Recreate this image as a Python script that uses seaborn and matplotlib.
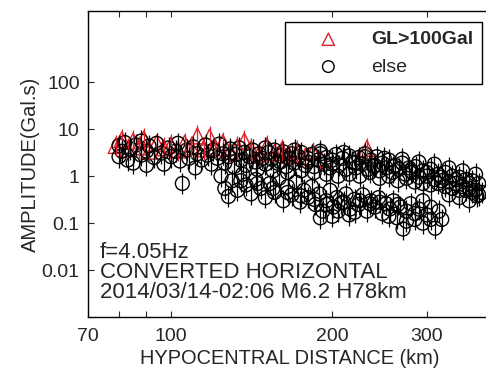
import numpy as np
import pandas as pd
import matplotlib
matplotlib.use("Agg")
import matplotlib.pyplot as plt
import seaborn as sns

# --- DATA ---
GROUP_RED = "GL>100Gal"
GROUP_ELSE = "else"

red_dist = [79, 81, 83, 85, 87, 89, 91, 94, 97, 100, 103, 106, 109, 112, 115, 118,
            121, 125, 129, 133, 137, 141, 146, 151, 156, 161, 166, 172, 178, 184, 190, 232]
red_amp = [4.5, 6.0, 3.8, 5.6, 4.2, 6.2, 3.4, 5.0, 4.0, 4.6, 3.6, 5.0, 4.2, 7.2, 3.8, 6.8,
           4.0, 5.2, 3.4, 4.2, 5.6, 3.8, 3.0, 4.4, 3.2, 3.6, 2.8, 3.4, 2.6, 3.2, 2.4, 3.9]

# upper band of "else" stations
upper_dist = [80, 80, 81, 82, 83, 84, 85, 86, 88, 88,
              90, 90, 91, 93, 94, 96, 97, 99, 100, 102,
              103, 104, 105, 107, 108, 110, 111, 112, 114, 116,
              117, 119, 120, 122, 123, 125, 126, 128, 129, 131,
              132, 134, 135, 137, 138, 140, 142, 144, 146, 148,
              150, 152, 154, 156, 158, 160, 162, 164, 166, 168,
              170, 173, 175, 178, 180, 183, 185, 188, 190, 193,
              195, 198, 200, 203, 206, 209, 212, 215, 218, 221,
              224, 227, 230, 233, 236, 239, 242, 245, 248, 252,
              255, 259, 262, 266, 270, 274, 278, 282, 286, 290,
              295, 300, 305, 310, 315, 320, 325, 330, 335, 340,
              345, 350, 355, 360, 365, 370, 375, 380]
upper_amp = [4.5, 2.6, 3.4, 5.2, 2.2, 3.8, 1.9, 4.6, 2.8, 5.6,
             3.4, 1.7, 4.4, 2.5, 5.0, 3.1, 1.8, 4.0, 2.6, 3.4,
             5.0, 2.1, 0.7, 3.6, 2.4, 4.2, 1.5, 3.0, 2.2, 4.6,
             2.8, 1.8, 3.6, 2.4, 4.8, 3.0, 1.9, 2.6, 3.8, 1.6,
             2.9, 4.0, 2.2, 3.2, 1.7, 2.6, 3.6, 2.0, 3.0, 2.4,
             1.8, 3.2, 2.3, 3.6, 1.9, 2.7, 3.3, 1.6, 2.4, 3.0,
             1.9, 2.6, 3.2, 1.7, 2.4, 2.9, 1.6, 2.2, 3.0, 1.8,
             2.5, 1.5, 2.2, 2.9, 1.7, 2.4, 1.4, 2.7, 2.0, 1.5,
             2.5, 1.8, 3.0, 1.4, 2.2, 1.6, 2.6, 1.3, 1.9, 1.5,
             2.2, 1.2, 1.7, 1.4, 1.9, 1.1, 1.5, 1.2, 1.6, 0.95,
             1.3, 1.0, 1.4, 0.85, 1.1, 0.8, 1.2, 0.75, 1.0, 0.7,
             0.95, 0.6, 0.85, 0.55, 0.8, 0.5, 0.7, 0.45]

# stations filling the middle of the two bands
mid_dist = [145, 155, 165, 175, 185, 195, 205, 215, 225, 235,
            245, 255, 265, 275, 285, 295, 305, 315, 325, 335,
            345, 355, 365, 375, 150, 170, 190, 210, 230, 250,
            270, 290, 310, 330, 350, 370, 160, 180, 200, 220,
            240, 260, 280, 300, 320, 340, 360]
mid_amp = [1.4, 1.3, 1.2, 1.3, 1.2, 1.1, 1.0, 1.1, 1.0, 1.2,
           0.9, 1.0, 0.8, 0.9, 0.75, 0.7, 0.65, 0.7, 0.6, 0.55,
           0.5, 0.5, 0.45, 0.4, 4.0, 3.6, 3.4, 3.2, 2.6, 2.4,
           2.3, 2.0, 1.8, 1.5, 1.3, 1.1, 2.0, 2.0, 1.8, 1.9,
           1.7, 1.6, 1.3, 1.2, 0.95, 0.85, 0.7]

# lower band of "else" stations
lower_dist = [124, 126, 128, 130, 133, 136, 138, 141, 144, 147,
              150, 153, 156, 159, 162, 165, 168, 171, 174, 177,
              180, 183, 186, 189, 192, 195, 198, 201, 204, 208,
              212, 216, 220, 224, 228, 232, 236, 240, 244, 248,
              252, 256, 260, 264, 268, 271, 275, 280, 285, 290,
              295, 300, 305, 311, 316, 320, 330, 345, 360, 372,
              135, 145, 155, 165, 175, 185, 195, 205, 215, 225,
              235, 245, 255, 265, 275, 285, 295, 305, 190, 200,
              210, 220]
lower_amp = [1.0, 0.55, 0.37, 0.8, 0.5, 1.1, 0.65, 0.42, 0.85, 0.55,
             0.35, 0.7, 0.45, 0.9, 0.3, 0.6, 0.4, 0.75, 0.28, 0.5,
             0.35, 0.6, 0.25, 0.42, 0.18, 0.3, 0.5, 0.22, 0.35, 0.27,
             0.42, 0.2, 0.32, 0.25, 0.4, 0.18, 0.3, 0.22, 0.35, 0.16,
             0.26, 0.2, 0.3, 0.13, 0.22, 0.075, 0.18, 0.26, 0.12, 0.2,
             0.3, 0.15, 0.22, 0.078, 0.18, 0.12, 0.4, 0.35, 0.3, 0.38,
             0.8, 0.7, 0.55, 0.45, 0.38, 0.32, 0.25, 0.18, 0.15, 0.3,
             0.26, 0.28, 0.14, 0.25, 0.11, 0.16, 0.1, 0.12, 0.13, 0.14,
             0.28, 0.17]

ERR_FACTOR = 1.7  # multiplicative half-width of the vertical error bars

x_ticks = [70, 80, 90, 100, 200, 300]
x_ticklabels = ["70", "", "", "100", "200", "300"]
y_ticks = [0.01, 0.1, 1, 10, 100]
y_ticklabels = ["0.01", "0.1", "1", "10", "100"]

annotation = ["f=4.05Hz", "CONVERTED HORIZONTAL", "2014/03/14-02:06 M6.2 H78km"]

# --- TABLE ---
else_dist = upper_dist + mid_dist + lower_dist
else_amp = upper_amp + mid_amp + lower_amp
df = pd.DataFrame({
    "DIST": red_dist + else_dist,
    "AMP": red_amp + else_amp,
    "GRUPO": [GROUP_RED] * len(red_dist) + [GROUP_ELSE] * len(else_dist),
})

sns.set_theme(style="ticks")
plt.rcParams["font.family"] = ["Liberation Sans", "DejaVu Sans"]

fig = plt.figure(figsize=(4.86, 3.74), dpi=100)
ax = fig.add_axes([0.181, 0.152, 0.83, 0.818])

estilo = {
    GROUP_RED: dict(marker="^", color="#e0202a", s=130, ms=0.6),
    GROUP_ELSE: dict(marker="o", color="black", s=100, ms=0.7),
}

for grupo in [GROUP_RED, GROUP_ELSE]:
    sub = df[df["GRUPO"] == grupo]
    st = estilo[grupo]
    y = sub["AMP"].to_numpy()
    ax.errorbar(sub["DIST"], y, yerr=[y - y / ERR_FACTOR, y * ERR_FACTOR - y],
                fmt="none", ecolor=st["color"], elinewidth=0.9, capsize=0)
    sns.scatterplot(data=sub, x="DIST", y="AMP", ax=ax, marker=st["marker"],
                    s=st["s"], facecolors="none", edgecolor=st["color"],
                    linewidth=1.0, label=grupo)

ax.set_xscale("log")
ax.set_yscale("log")
ax.set_xlim(70, 396)
ax.set_ylim(1e-3, 3240)

ax.set_xticks(x_ticks)
ax.set_xticklabels(x_ticklabels)
ax.set_yticks(y_ticks)
ax.set_yticklabels(y_ticklabels)
ax.minorticks_off()
ax.tick_params(axis="x", which="both", direction="in", top=True, length=4,
               width=0.8, labelsize=14, pad=8)
ax.tick_params(axis="y", which="both", direction="in", length=4, width=0.8,
               labelsize=14, pad=6)

for lado in ["left", "bottom", "top"]:
    ax.spines[lado].set_linewidth(1.0)
    ax.spines[lado].set_color("black")
ax.spines["right"].set_visible(False)

ax.set_xlabel("HYPOCENTRAL DISTANCE (km)", fontsize=14.4, labelpad=3)
ax.set_ylabel("AMPLITUDE(Gal.s)", fontsize=14.5, labelpad=1)

fig.text(100 / 486, 1 - 242 / 374, "\n".join(annotation), fontsize=16,
         va="top", ha="left", linespacing=0.95)

leg = ax.legend(loc="upper right", bbox_to_anchor=(482 / 486, 1 - 22 / 374),
                bbox_transform=fig.transFigure, borderaxespad=0, fancybox=False,
                framealpha=1, edgecolor="black", fontsize=14, handlelength=3.6,
                handletextpad=0.4, borderpad=0.45, labelspacing=0.5)
leg.get_frame().set_linewidth(1.0)
# marcadores da legenda um pouco menores que no gráfico
for handle, grupo in zip(leg.legend_handles, [GROUP_RED, GROUP_ELSE]):
    handle.set_sizes([estilo[grupo]["s"] * estilo[grupo]["ms"]])
for txt in leg.get_texts():
    txt.set_fontweight("bold" if txt.get_text() == GROUP_RED else "normal")

fig.savefig("out.png", dpi=100)
